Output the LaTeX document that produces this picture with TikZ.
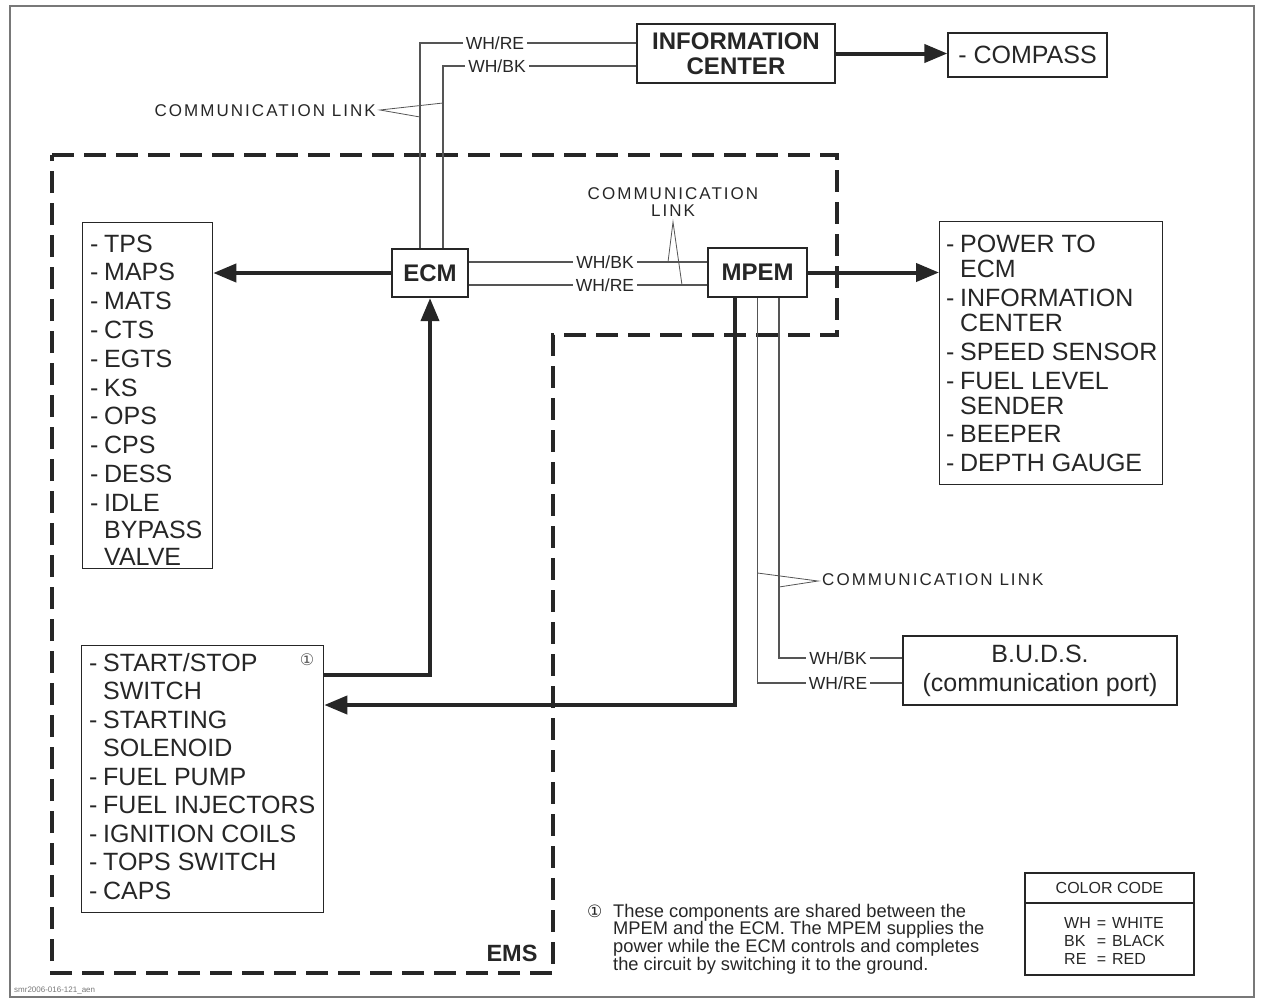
\documentclass[tikz,border=0pt]{standalone}
\usepackage{fontspec}
\setmainfont{Liberation Sans}
\newfontfamily\symfont{DejaVu Sans}
\newfontfamily\spacedfont[LetterSpace=12]{Liberation Sans}
\usetikzlibrary{arrows.meta,calc}
\definecolor{ink}{RGB}{38,38,38}
\definecolor{wire}{RGB}{85,85,85}
\definecolor{framec}{RGB}{120,120,120}
\newcommand{\lii}{\makebox[14pt][l]{-}}
\newcommand{\lic}{\hspace*{14pt}}
\begin{document}
\begin{tikzpicture}[x=1pt,y=-1pt,
  every node/.style={text=ink},
  box/.style={draw=ink, line width=1.3pt, inner sep=0pt},
  mainbox/.style={draw=ink, line width=2.2pt, inner sep=0pt, font=\fontsize{24}{25}\selectfont\bfseries},
  listtxt/.style={anchor=base west, inner sep=0pt},
  wirelbl/.style={fill=white, inner xsep=3pt, inner ysep=1pt, font=\fontsize{17.5}{18}\selectfont},
  wireln/.style={draw=wire, line width=1.1pt},
  power/.style={draw=ink, line width=4pt, -{Triangle[length=23pt,width=18pt]}},
  emsline/.style={draw=ink, line width=3.2pt, dash pattern=on 22pt off 10pt},
  linklbl/.style={font=\spacedfont\fontsize{17}{17.5}\selectfont, inner sep=0pt, align=center},
]
\useasboundingbox (0,0) rectangle (1261,1002);
% outer frame
\draw[framec, line width=2pt] (10,6) rectangle (1254,997);
\node[anchor=west, inner sep=0pt, text=framec, font=\fontsize{8}{9}\selectfont] (refid) at (14,990) {smr2006-016-121\_aen};

% EMS boundary
\draw[emsline] (52,155) -- (837,155) -- (837,335) -- (553,335) -- (553,973) -- (52,973) -- cycle;
\node[inner sep=0pt, font=\fontsize{23.5}{25}\selectfont\bfseries] (ems) at (512,953) {EMS};

% main boxes
\node[mainbox, minimum width=76, minimum height=48] (ecm) at (430,273) {ECM};
\node[mainbox, minimum width=99, minimum height=49] (mpem) at (757.5,272.5) {MPEM};
\node[mainbox, minimum width=198, minimum height=59, align=center] (info) at (736,53.5) {INFORMATION\\CENTER};
\node[box, minimum width=159, minimum height=44, font=\fontsize{25}{28}\selectfont] (compass) at (1027.5,55) {- COMPASS};

% list boxes
\node[box, minimum width=130, minimum height=346, anchor=north west] (sens) at (82,222) {};
\node[listtxt, font=\fontsize{25}{28.8}\selectfont] (senstxt) at (90,252) {\parbox[t]{250pt}{%
\lii TPS\\
\lii MAPS\\
\lii MATS\\
\lii CTS\\
\lii EGTS\\
\lii KS\\
\lii OPS\\
\lii CPS\\
\lii DESS\\
\lii IDLE\\[-2pt]
\lic BYPASS\\[-1pt]
\lic VALVE}};

\node[box, minimum width=242, minimum height=267, anchor=north west] (acts) at (81,645) {};
\node[listtxt, font=\fontsize{25}{28.5}\selectfont] (actstxt) at (89,671) {\parbox[t]{250pt}{%
\lii START/STOP\\
\lic SWITCH\\
\lii STARTING\\
\lic SOLENOID\\
\lii FUEL PUMP\\
\lii FUEL INJECTORS\\
\lii IGNITION COILS\\
\lii TOPS SWITCH\\
\lii CAPS}};
\node[inner sep=0pt, font=\symfont\fontsize{16}{17}\selectfont, text=wire] (note1) at (307,660) {①};

\node[box, minimum width=223, minimum height=263, anchor=north west] (outs) at (939,221) {};
\node[listtxt, font=\fontsize{25}{29}\selectfont] (outstxt) at (946,252) {\parbox[t]{250pt}{%
\lii POWER TO\\[-4pt]
\lic ECM\\
\lii INFORMATION\\[-4pt]
\lic CENTER\\
\lii SPEED SENSOR\\
\lii FUEL LEVEL\\[-4pt]
\lic SENDER\\[-1pt]
\lii BEEPER\\
\lii DEPTH GAUGE}};

\node[box, minimum width=274, minimum height=69, align=center, font=\fontsize{25}{29}\selectfont] (buds) at (1040,670.5) {B.U.D.S.\\(communication port)};

% thick power arrows
\draw[power] (ecm.west) -- (sens.east |- ecm.west);
\draw[power] (mpem.east) -- (outs.west |- mpem.east);
\draw[power] (info.east) -- (compass.west |- info.east);
\coordinate (sw) at ($(acts.north east)+(0,30)$);
\draw[power] (sw) -| (ecm.south);
\coordinate (mp) at ($(mpem.south)+(-22.5,0)$);
\coordinate (swin) at ($(acts.north east)+(0,60)$);
\draw[power] (mp) |- (swin);

% ECM -- information center wires
\coordinate (e1) at ($(ecm.north)+(-10,0)$);
\coordinate (e2) at ($(ecm.north)+(13,0)$);
\draw[wireln] (e1) |- (info.west |- 0,43);
\draw[wireln] (e2) |- (info.west |- 0,66);
\node[wirelbl] (l1) at (495,43) {WH/RE};
\node[wirelbl] (l2) at (497,66) {WH/BK};
\node[linklbl, anchor=east] (cl1) at (376,111) {COMMUNICATION LINK};
\coordinate (a1) at (380,110);
\draw[wireln, line width=0.8pt] (e1 |- 0,117) -- (a1) -- (e2 |- 0,103);

% ECM -- MPEM wires
\coordinate (m1) at ($(ecm.east)+(0,-11)$);
\coordinate (m2) at ($(ecm.east)+(0,12)$);
\draw[wireln] (m1) -- (mpem.west |- m1);
\draw[wireln] (m2) -- (mpem.west |- m2);
\node[wirelbl] (l3) at (605,262) {WH/BK};
\node[wirelbl] (l4) at (605,285) {WH/RE};
\node[linklbl] (cl2) at (673,202) {COMMUNICATION\\[0pt]LINK};
\coordinate (a2) at (673,222);
\draw[wireln, line width=0.8pt] (668,262) -- (a2) -- (682,285);

% MPEM -- BUDS wires
\coordinate (b1) at ($(mpem.south)+(0,0)$);
\coordinate (b2) at ($(mpem.south)+(21.5,0)$);
\draw[wireln] (b1) |- (buds.west |- 0,683);
\draw[wireln] (b2) |- (buds.west |- 0,658);
\node[wirelbl] (l5) at (838,658) {WH/BK};
\node[wirelbl] (l6) at (838,683) {WH/RE};
\node[linklbl, anchor=west] (cl3) at (822,580) {COMMUNICATION LINK};
\coordinate (a3) at (818,581);
\draw[wireln, line width=0.8pt] (b1 |- 0,573) -- (a3) -- (b2 |- 0,587);

% footnote
\node[anchor=base west, inner sep=0pt, font=\symfont\fontsize{17}{18}\selectfont] (fnsym) at (587,917) {①};
\node[listtxt, font=\fontsize{18.3}{17.7}\selectfont] (fntext) at (613,917) {\parbox[t]{420pt}{%
These components are shared between the\\
MPEM and the ECM. The MPEM supplies the\\
power while the ECM controls and completes\\
the circuit by switching it to the ground.}};

% color code
\node[box, minimum width=169, minimum height=102] (ccode) at (1109.5,924) {};
\draw[ink, line width=1.3pt] (ccode.west |- 0,903) -- (ccode.east |- 0,903);
\node[inner sep=0pt, font=\fontsize{16}{18}\selectfont] (cctitle) at (1109.5,888) {COLOR CODE};
\node[listtxt, font=\fontsize{16}{18}\selectfont] (cctab) at (1064,928) {\begin{tabular}[t]{@{}l@{\hspace{6pt}}c@{\hspace{6pt}}l@{}}WH & = & WHITE\\ BK & = & BLACK\\ RE & = & RED\end{tabular}};
\end{tikzpicture}
\end{document}
